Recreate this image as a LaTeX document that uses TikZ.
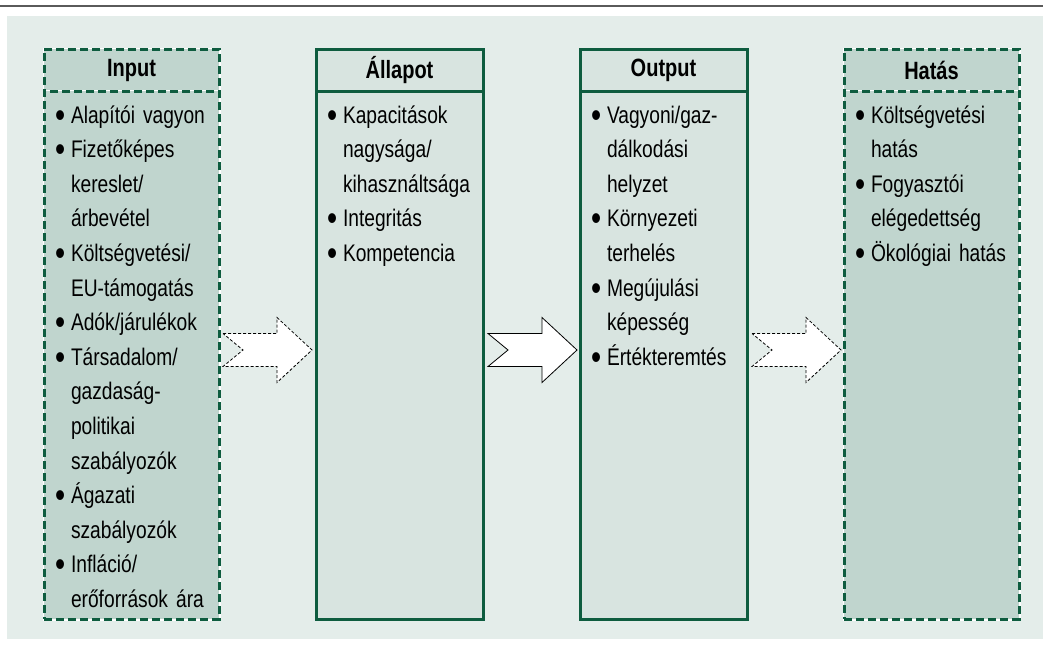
\documentclass[tikz,border=0pt]{standalone}
\usepackage{graphicx}
\usepackage{fontspec}
\setmainfont{Liberation Sans}[FakeStretch=0.8]
\usetikzlibrary{positioning,calc}
\definecolor{panelbg}{HTML}{E4EDEA}
\definecolor{darkfill}{HTML}{C0D5CE}
\definecolor{lightfill}{HTML}{D8E4E0}
\definecolor{boxline}{HTML}{0E5C3F}
\definecolor{rulegray}{HTML}{5A5A5A}
\newcommand{\itemdot}{\makebox[16pt][l]{\raisebox{-0.17em}{\scalebox{1.5}{\textbullet}}}}
\newcommand{\itemind}{\hspace*{16pt}}
\newcommand{\firstline}{\rule{0pt}{23pt}}
\tikzset{
  blockarr/.pic={\path[pic actions] (0,-16.5) -- (54,-16.5) -- (54,-32.5) -- (89,0) -- (54,32.5) -- (54,16.5) -- (0,16.5) -- (20,0) -- cycle;}
}

\begin{document}
\begin{tikzpicture}[x=1pt,y=-1pt,node distance=0pt and 97pt,
  every node/.style={inner sep=0pt,outer sep=0pt},
  headbox/.style={minimum height=42pt,font=\fontsize{25}{30}\selectfont\bfseries},
  bodybox/.style={minimum height=528pt},
  solidline/.style={draw=boxline,line width=3pt},
  dashline/.style={draw=boxline,line width=3pt,dash pattern=on 8pt off 4pt,preaction={draw=white,solid,line width=3pt}},
  itemtext/.style={anchor=north west,text width=165pt,align=left,font=\fontsize{24}{34.6}\selectfont},
  arrsolid/.style={draw=black,fill=white,line width=0.8pt},
  arrdash/.style={arrsolid,dash pattern=on 3pt off 2pt}]
\useasboundingbox (0,0) rectangle (1043,649);
\draw[rulegray,line width=2pt] (0,5.5) -- (1043,5.5);
\fill[panelbg] (7,16) rectangle (1043,639);
% columns
\node[headbox,dashline,fill=darkfill,minimum width=175pt] (inhd) at (131.5,70) {Input};
\node[bodybox,dashline,fill=darkfill,minimum width=175pt,below=of inhd] (inbd) {};
\node[headbox,solidline,fill=lightfill,minimum width=167pt,right=of inhd] (sthd) {Állapot};
\node[bodybox,solidline,fill=lightfill,minimum width=167pt,below=of sthd] (stbd) {};
\node[headbox,solidline,fill=lightfill,minimum width=167pt,right=of sthd] (ouhd) {Output};
\node[bodybox,solidline,fill=lightfill,minimum width=167pt,below=of ouhd] (oubd) {};
\node[headbox,dashline,fill=darkfill,minimum width=175pt,right=of ouhd] (hahd) {Hatás};
\node[bodybox,dashline,fill=darkfill,minimum width=175pt,below=of hahd] (habd) {};
% lists
\node[itemtext] (intx) at ($(inbd.north west)+(11,9)$) {\noindent\firstline\itemdot Alapítói vagyon\\
  \itemdot Fizetőképes\\ \itemind kereslet/\\ \itemind árbevétel\\
  \itemdot Költségvetési/\\ \itemind EU-támogatás\\
  \itemdot Adók/járulékok\\
  \itemdot Társadalom/\\ \itemind gazdaság-\\ \itemind politikai\\ \itemind szabályozók\\
  \itemdot Ágazati\\ \itemind szabályozók\\
  \itemdot Infláció/\\ \itemind erőforrások ára};
\node[itemtext] (sttx) at ($(stbd.north west)+(11,9)$) {\noindent\firstline\itemdot Kapacitások\\
  \itemind nagysága/\\ \itemind kihasználtsága\\
  \itemdot Integritás\\
  \itemdot Kompetencia};
\node[itemtext] (outx) at ($(oubd.north west)+(11,9)$) {\noindent\firstline\itemdot Vagyoni/gaz-\\
  \itemind dálkodási\\ \itemind helyzet\\
  \itemdot Környezeti\\ \itemind terhelés\\
  \itemdot Megújulási\\ \itemind képesség\\
  \itemdot Értékteremtés};
\node[itemtext] (hatx) at ($(habd.north west)+(11,9)$) {\noindent\firstline\itemdot Költségvetési\\
  \itemind hatás\\
  \itemdot Fogyasztói\\ \itemind elégedettség\\
  \itemdot Ökológiai hatás};
% arrows between columns
\pic[arrdash] at ($(inbd.east)+(4,-5)$) {blockarr};
\pic[arrsolid] at ($(stbd.east)+(5,-5)$) {blockarr};
\pic[arrdash] at ($(oubd.east)+(5,-5)$) {blockarr};
\end{tikzpicture}
\end{document}
